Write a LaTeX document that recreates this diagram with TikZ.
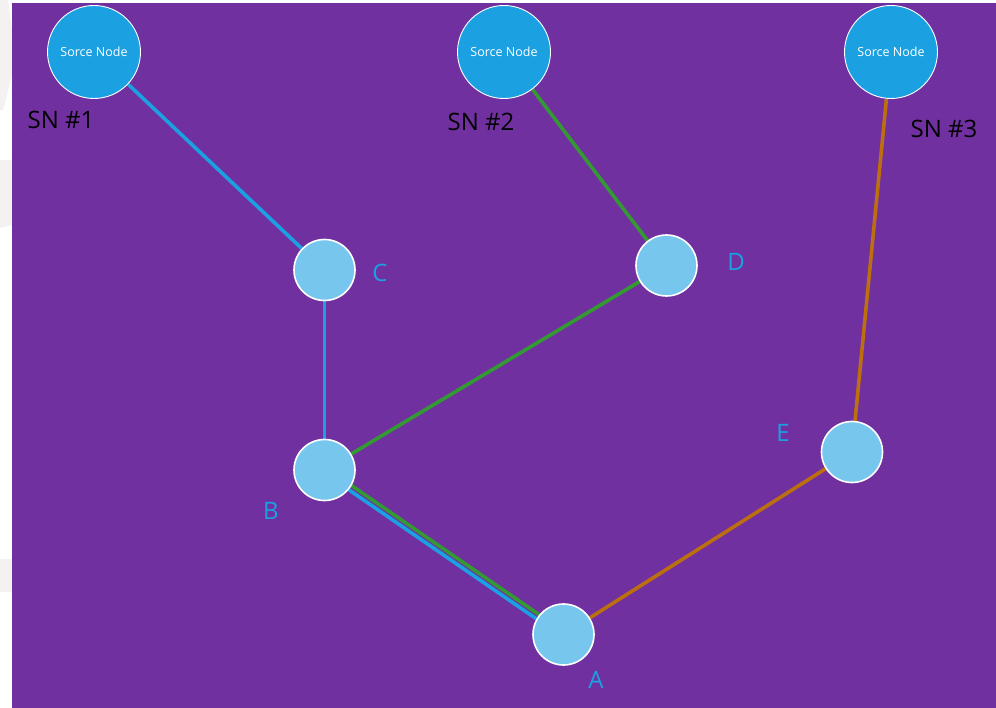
\documentclass[tikz,border=0pt]{standalone}
\usepackage{fontspec}
\setmainfont{Open Sans}
\usetikzlibrary{backgrounds}
\pgfdeclarelayer{canvas}
\pgfsetlayers{canvas,background,main}
\definecolor{bgpurple}{HTML}{7030A0}
\definecolor{srcblue}{HTML}{1BA1E2}
\definecolor{nodeblue}{HTML}{76C6EE}
\definecolor{linkblue}{HTML}{1BA1E2}
\definecolor{linkgreen}{HTML}{339933}
\definecolor{linkorange}{HTML}{BB6F0F}
\definecolor{paleside}{HTML}{F3F2F1}
\tikzset{
  source/.style={circle, fill=srcblue, draw=white, line width=0.9pt,
    minimum size=93pt, inner sep=0pt, text=white, font=\fontsize{12.5}{14}\selectfont},
  router/.style={circle, fill=nodeblue, draw=white, line width=1.6pt,
    minimum size=61pt, inner sep=0pt},
  snlabel/.style={text=black, font=\fontsize{24}{28}\selectfont, inner sep=0pt},
  letter/.style={text=srcblue, font=\fontsize{24}{28}\selectfont, inner sep=0pt},
  link/.style={line width=3.6pt},
}
\begin{document}
\begin{tikzpicture}[x=1pt, y=-1pt]
  % canvas and side strip
  \begin{pgfonlayer}{canvas}
    \fill[white] (0,0) rectangle (996,708);
    \fill[paleside] (0,0) -- (8,0) -- (12,30) -- (12,75) -- (3,110) -- (0,110) -- cycle;
    \fill[paleside] (0,160) -- (12,160) -- (12,225) -- (0,228) -- cycle;
    \fill[paleside] (0,559) rectangle (12,592);
    \fill[bgpurple] (12,3) rectangle (996,708);
  \end{pgfonlayer}
  \useasboundingbox (0,0) rectangle (996,708);

  % source nodes
  \node[source] (sn1) at (94,52) {Sorce Node};
  \node[source] (sn2) at (504,52) {Sorce Node};
  \node[source] (sn3) at (891,52) {Sorce Node};

  % routers
  \node[router] (c) at (324.5,270) {};
  \node[router] (d) at (666.5,265.5) {};
  \node[router] (b) at (324.5,470) {};
  \node[router] (a) at (563.5,634.5) {};
  \node[router] (e) at (852,452) {};

  % labels
  \node[snlabel] (l1) at (61,120) {SN \#1};
  \node[snlabel] (l2) at (481,122) {SN \#2};
  \node[snlabel] (l3) at (944,129) {SN \#3};
  \node[letter] (lc) at (380,273) {C};
  \node[letter] (ld) at (736,262) {D};
  \node[letter] (lb) at (271,511) {B};
  \node[letter] (la) at (596,680) {A};
  \node[letter] (le) at (783,433) {E};

  % links, kept behind the nodes
  \begin{scope}[on background layer]
    \draw[link, linkblue] (sn1) -- (c);
    \draw[link, linkblue] (c) -- (b);
    \draw[link, linkgreen] (sn2) -- (d);
    \draw[link, linkgreen] (d) -- (b);
    \draw[link, linkgreen] ([shift={(1.4,-2.05)}]b.center) -- ([shift={(1.4,-2.05)}]a.center);
    \draw[link, linkblue] ([shift={(-1.4,2.05)}]b.center) -- ([shift={(-1.4,2.05)}]a.center);
    \draw[link, linkorange] (sn3) -- (e);
    \draw[link, linkorange] (e) -- (a);
  \end{scope}
\end{tikzpicture}
\end{document}
